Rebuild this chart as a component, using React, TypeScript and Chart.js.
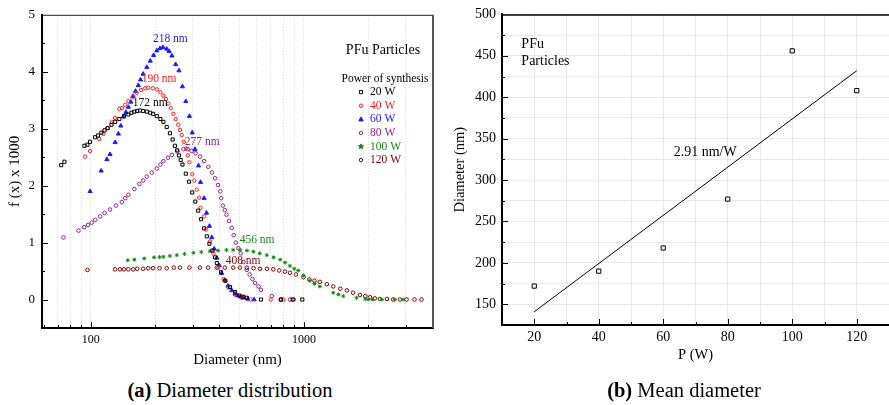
import React, { useEffect, useRef } from 'react';
import { Chart, registerables } from 'chart.js';
Chart.register(...registerables);

const FONT = "'Liberation Serif', 'Times New Roman', serif";

// ---------- Panel (a): diameter distribution ----------
const w20X = [72.6, 75.2, 93.3, 96.4, 99.2, 104.7, 108, 112, 116, 120, 125, 130, 136, 143, 150, 155, 160, 165, 170, 176, 183, 190, 196, 204, 212, 219, 227, 235, 242, 248, 254, 259, 264, 269, 279, 289, 299, 309, 319, 329, 340, 350, 360, 372, 383, 390, 408, 428, 450, 475, 498, 520, 539, 628, 780, 885, 982];
const w20Y = [2.36, 2.42, 2.70, 2.72, 2.77, 2.85, 2.88, 2.93, 2.97, 3.01, 3.07, 3.12, 3.17, 3.22, 3.25, 3.28, 3.30, 3.31, 3.32, 3.31, 3.30, 3.28, 3.26, 3.22, 3.17, 3.12, 3.03, 2.92, 2.81, 2.70, 2.62, 2.53, 2.45, 2.37, 2.21, 2.07, 1.88, 1.72, 1.56, 1.41, 1.25, 1.11, 0.98, 0.86, 0.74, 0.64, 0.48, 0.33, 0.22, 0.13, 0.07, 0.05, 0.03, 0, 0, 0, 0];

const w40X = [94, 99.2, 109.4, 114.6, 119.6, 125.4, 130, 136, 140, 145, 150, 157, 164, 172, 180, 186, 195, 204, 212, 219, 225, 231, 237, 244, 250, 257, 262, 267, 273, 280, 285, 290, 299, 306, 314, 322, 327, 340, 347, 362, 376, 396, 420, 442, 475, 510, 561, 698, 780, 800];
const w40Y = [2.51, 2.61, 2.82, 2.91, 3.01, 3.12, 3.19, 3.35, 3.36, 3.42, 3.48, 3.56, 3.63, 3.68, 3.71, 3.72, 3.71, 3.69, 3.64, 3.58, 3.52, 3.44, 3.36, 3.26, 3.17, 3.07, 2.98, 2.89, 2.77, 2.65, 2.53, 2.41, 2.20, 2.09, 1.93, 1.79, 1.61, 1.46, 1.23, 1.02, 0.81, 0.56, 0.36, 0.21, 0.09, 0.03, 0, 0, 0, 0];

const w60X = [99.2, 111.8, 118.9, 123, 130, 134.7, 138.2, 142.2, 146, 150, 154, 158, 162, 167, 171, 176, 183, 190, 197, 204, 211, 218, 227, 233, 240, 250, 259, 269, 279, 290, 299, 308, 320, 327, 340, 349, 360, 369, 379, 390, 400, 411, 425, 440, 458, 475, 487, 503, 519, 545, 583];
const w60Y = [1.90, 2.26, 2.46, 2.55, 2.76, 2.91, 3.05, 3.21, 3.29, 3.38, 3.47, 3.57, 3.66, 3.76, 3.86, 3.96, 4.08, 4.19, 4.29, 4.37, 4.41, 4.43, 4.40, 4.36, 4.28, 4.13, 4.02, 3.74, 3.48, 3.22, 2.93, 2.64, 2.35, 2.06, 1.78, 1.52, 1.29, 1.09, 0.89, 0.73, 0.60, 0.46, 0.34, 0.24, 0.16, 0.10, 0.07, 0.05, 0.03, 0.01, 0];

const w80X = [74.4, 87.5, 93, 97, 101, 105, 110.6, 116, 123, 131, 139.7, 145, 150, 160, 169, 176, 183, 193, 204, 212, 219, 230, 240, 255, 272, 285, 297, 310, 325, 340, 356, 370, 383, 395, 405, 409, 416, 425, 433, 445, 458, 468, 479, 492, 505, 520, 539, 556, 573, 590, 612, 628, 706, 777, 860, 895];
const w80Y = [1.09, 1.21, 1.27, 1.31, 1.35, 1.40, 1.46, 1.52, 1.58, 1.65, 1.71, 1.78, 1.84, 1.94, 2.03, 2.09, 2.16, 2.23, 2.30, 2.37, 2.43, 2.49, 2.54, 2.60, 2.64, 2.64, 2.61, 2.57, 2.51, 2.43, 2.33, 2.23, 2.13, 2.01, 1.90, 1.78, 1.65, 1.57, 1.49, 1.38, 1.26, 1.13, 1.00, 0.90, 0.81, 0.66, 0.52, 0.44, 0.36, 0.29, 0.23, 0.17, 0.06, 0, 0, 0];

const w100X = [149, 160, 178, 198, 210, 219, 235, 253, 275, 303, 330, 362, 395, 433, 465, 501, 540, 579, 620, 669, 720, 773, 815, 859, 900, 940, 995, 1067, 1120, 1187, 1372, 1450, 1528, 1765, 1938, 2000, 2100, 2320, 2670, 2920];
const w100Y = [0.69, 0.70, 0.72, 0.74, 0.745, 0.75, 0.765, 0.78, 0.80, 0.82, 0.835, 0.85, 0.86, 0.87, 0.87, 0.87, 0.86, 0.84, 0.81, 0.78, 0.74, 0.70, 0.65, 0.59, 0.54, 0.51, 0.42, 0.33, 0.28, 0.23, 0.12, 0.09, 0.06, 0.03, 0.01, 0, 0, 0, 0, 0];

const w120X = [96.4, 130, 137, 143, 150, 158, 165, 176, 186, 196, 210, 227, 245, 262, 290, 325, 355, 390, 425, 466, 500, 539, 580, 621, 670, 718, 765, 814, 860, 917, 995, 1060, 1120, 1187, 1280, 1372, 1480, 1590, 1700, 1830, 1940, 2040, 2150, 2270, 2450, 2620, 2820, 3030, 3300, 3560];
const w120Y = [0.52, 0.53, 0.53, 0.53, 0.53, 0.53, 0.54, 0.54, 0.55, 0.55, 0.55, 0.55, 0.56, 0.56, 0.56, 0.56, 0.56, 0.56, 0.56, 0.56, 0.56, 0.56, 0.55, 0.54, 0.54, 0.53, 0.51, 0.49, 0.47, 0.44, 0.39, 0.35, 0.33, 0.31, 0.27, 0.23, 0.19, 0.16, 0.12, 0.08, 0.06, 0.04, 0.02, 0.01, 0.01, 0, 0, 0, 0, 0];

const seriesLabels = ['20 W', '40 W', '60 W', '80 W', '100 W', '120 W'];
const seriesX = [w20X, w40X, w60X, w80X, w100X, w120X];
const seriesY = [w20Y, w40Y, w60Y, w80Y, w100Y, w120Y];
const seriesColors = ['#000000', '#ff1a1a', '#1a1aff', '#8e238e', '#138a13', '#800000'];
const seriesStyles = ['rect', 'circle', 'triangle', 'circle', 'star', 'circle'];
const seriesFilled = [false, false, true, false, true, false];
const seriesRadius = [2.2, 1.7, 2.4, 1.8, 2.0, 1.8];

const xTickValues = [60, 70, 80, 90, 100, 200, 300, 400, 500, 600, 700, 800, 900, 1000, 2000, 3000, 4000];
const xTickLabeled = [100, 1000];

const peakLabels = ['218 nm', '190 nm', '172 nm', '277 nm', '456 nm', '408 nm'];
const peakX = [236, 209, 190, 333, 603, 518];
const peakY = [4.58, 3.87, 3.45, 2.76, 1.04, 0.67];
const peakColors = ['#1a1aff', '#ff1a1a', '#000000', '#8e238e', '#138a13', '#800000'];

// ---------- Panel (b): mean diameter ----------
const powerW = [20, 40, 60, 80, 100, 120];
const meanDiameter = [172, 190, 218, 277, 456, 408];
const fitX = [20, 120];
const fitY = [141, 432];

const pts = (xs: number[], ys: number[]) => xs.map((x, i) => ({ x, y: ys[i] }));

function drawMarker(ctx: CanvasRenderingContext2D, style: string, x: number, y: number, color: string, filled: boolean) {
  ctx.save();
  ctx.strokeStyle = color;
  ctx.fillStyle = color;
  ctx.lineWidth = 1;
  ctx.beginPath();
  if (style === 'rect') {
    ctx.rect(x - 1.6, y - 1.6, 3.2, 3.2);
  } else if (style === 'circle') {
    ctx.arc(x, y, 1.7, 0, Math.PI * 2);
  } else if (style === 'triangle') {
    ctx.moveTo(x, y - 2.4);
    ctx.lineTo(x + 2.2, y + 1.6);
    ctx.lineTo(x - 2.2, y + 1.6);
    ctx.closePath();
  } else {
    for (let k = 0; k < 10; k++) {
      const r = k % 2 === 0 ? 2.6 : 1.2;
      const a = -Math.PI / 2 + (k * Math.PI) / 5;
      const px = x + r * Math.cos(a);
      const py = y + r * Math.sin(a);
      if (k === 0) ctx.moveTo(px, py);
      else ctx.lineTo(px, py);
    }
    ctx.closePath();
  }
  if (filled) ctx.fill();
  ctx.stroke();
  ctx.restore();
}

function drawInnerTicks(chart: any, majorTest: (axis: string, v: number) => boolean) {
  const ctx = chart.ctx as CanvasRenderingContext2D;
  const ca = chart.chartArea;
  const xs = chart.scales.x;
  const ys = chart.scales.y;
  ctx.save();
  ctx.strokeStyle = '#000';
  ctx.lineWidth = 1;
  ctx.beginPath();
  xs.ticks.forEach((t: any) => {
    const px = Math.round(xs.getPixelForValue(t.value)) + 0.5;
    if (px < ca.left + 1 || px > ca.right - 1) return;
    const len = majorTest('x', t.value) ? 6 : 3;
    ctx.moveTo(px, ca.bottom);
    ctx.lineTo(px, ca.bottom - len);
  });
  ys.ticks.forEach((t: any) => {
    const py = Math.round(ys.getPixelForValue(t.value)) + 0.5;
    if (py < ca.top + 1 || py > ca.bottom - 1) return;
    const len = majorTest('y', t.value) ? 6 : 3;
    ctx.moveTo(ca.left, py);
    ctx.lineTo(ca.left + len, py);
  });
  ctx.stroke();
  ctx.restore();
}

const isInt = (v: number) => Math.abs(v - Math.round(v)) < 1e-6;

const panelAPlugin = {
  id: 'panelA',
  afterDraw(chart: any) {
    const ctx = chart.ctx as CanvasRenderingContext2D;
    const ca = chart.chartArea;
    const xs = chart.scales.x;
    const ys = chart.scales.y;
    ctx.save();
    ctx.strokeStyle = '#222';
    ctx.lineWidth = 1;
    ctx.beginPath();
    ctx.moveTo(ca.left, ca.top + 0.5);
    ctx.lineTo(ca.right, ca.top + 0.5);
    ctx.stroke();
    ctx.strokeStyle = '#555';
    ctx.lineWidth = 2;
    ctx.beginPath();
    ctx.moveTo(ca.right, ca.top);
    ctx.lineTo(ca.right, ca.bottom);
    ctx.stroke();
    ctx.restore();

    drawInnerTicks(chart, (axis, v) => (axis === 'x' ? xTickLabeled.includes(v) : isInt(v)));

    ctx.save();
    ctx.textAlign = 'center';
    ctx.textBaseline = 'middle';
    ctx.font = `11.5px ${FONT}`;
    peakLabels.forEach((l, i) => {
      ctx.fillStyle = peakColors[i];
      ctx.fillText(l, xs.getPixelForValue(peakX[i]), ys.getPixelForValue(peakY[i]));
    });

    // legend
    const L = ca.left;
    const T = ca.top;
    ctx.fillStyle = '#000';
    ctx.font = `14px ${FONT}`;
    ctx.fillText('PFu Particles', L + 341, T + 36);
    ctx.font = `11.5px ${FONT}`;
    ctx.fillText('Power of synthesis', L + 343, T + 64);
    ctx.textAlign = 'left';
    seriesLabels.forEach((l, i) => {
      const y = T + 77.3 + i * 13.6;
      drawMarker(ctx, seriesStyles[i], L + 319, y, seriesColors[i], seriesFilled[i]);
      ctx.fillStyle = seriesColors[i];
      ctx.fillText(l, L + 328, y);
    });
    ctx.restore();
  },
};

const panelBPlugin = {
  id: 'panelB',
  afterDraw(chart: any) {
    const ctx = chart.ctx as CanvasRenderingContext2D;
    const ca = chart.chartArea;
    const xs = chart.scales.x;
    const ys = chart.scales.y;
    ctx.save();
    ctx.strokeStyle = '#000';
    ctx.lineWidth = 1.5;
    ctx.beginPath();
    ctx.moveTo(ca.left, ca.top + 0.5);
    ctx.lineTo(ca.right, ca.top + 0.5);
    ctx.stroke();
    ctx.restore();

    drawInnerTicks(chart, (axis, v) => (axis === 'x' ? v % 20 === 0 : v % 50 === 0));

    ctx.save();
    ctx.fillStyle = '#000';
    ctx.font = `14px ${FONT}`;
    ctx.textBaseline = 'middle';
    ctx.textAlign = 'center';
    ctx.fillText('2.91 nm/W', xs.getPixelForValue(73), ys.getPixelForValue(334));
    ctx.textAlign = 'left';
    ctx.fillText('PFu', xs.getPixelForValue(16), ys.getPixelForValue(463.5));
    ctx.fillText('Particles', xs.getPixelForValue(16), ys.getPixelForValue(443));
    ctx.restore();
  },
};

function makeConfigA(): any {
  return {
    type: 'scatter',
    data: {
      datasets: seriesLabels.map((label, i) => ({
        label,
        data: pts(seriesX[i], seriesY[i]),
        pointStyle: seriesStyles[i],
        pointRadius: seriesRadius[i],
        pointBorderWidth: 1,
        borderColor: seriesColors[i],
        backgroundColor: seriesFilled[i] ? seriesColors[i] : 'rgba(255,255,255,0)',
        showLine: false,
      })),
    },
    options: {
      responsive: false,
      animation: false,
      events: [],
      layout: { padding: { top: 12, right: 12, left: 0, bottom: 0 } },
      plugins: { legend: { display: false }, tooltip: { enabled: false } },
      scales: {
        x: {
          type: 'logarithmic',
          min: 59,
          max: 4030,
          afterBuildTicks: (s: any) => {
            s.ticks = xTickValues.map((v) => ({ value: v }));
          },
          afterFit: (s: any) => {
            s.height = 47;
          },
          ticks: {
            autoSkip: false,
            maxRotation: 0,
            minRotation: 0,
            padding: 5,
            color: '#000',
            font: { family: FONT, size: 12 },
            callback: (v: number) => (xTickLabeled.includes(v) ? String(v) : ''),
          },
          grid: { color: '#d4d4d4', drawTicks: false, lineWidth: 1 },
          border: { display: true, color: '#000', width: 2, dash: [1, 2] },
          title: {
            display: true,
            text: 'Diameter (nm)',
            color: '#000',
            font: { family: FONT, size: 15 },
            padding: { top: 0, bottom: 6 },
          },
        },
        y: {
          type: 'linear',
          min: -0.5,
          max: 5,
          afterFit: (s: any) => {
            s.width = 42;
          },
          ticks: {
            stepSize: 0.5,
            padding: 7,
            color: '#000',
            font: { family: FONT, size: 13 },
            callback: (v: number) => (v >= 0 && isInt(v) ? String(Math.round(v)) : ''),
          },
          grid: { display: false, drawTicks: false },
          border: { display: true, color: '#000', width: 2 },
          title: {
            display: true,
            text: 'f (x) x 1000',
            color: '#000',
            font: { family: FONT, size: 15 },
            padding: { top: 6, bottom: 0 },
          },
        },
      },
    },
    plugins: [panelAPlugin],
  };
}

function makeConfigB(): any {
  return {
    type: 'scatter',
    data: {
      datasets: [
        {
          label: 'Mean diameter',
          data: pts(powerW, meanDiameter),
          pointStyle: 'rect',
          pointRadius: 3,
          pointBorderWidth: 1,
          borderColor: '#000',
          backgroundColor: 'rgba(255,255,255,0)',
          showLine: false,
        },
        {
          label: 'Fit',
          data: pts(fitX, fitY),
          showLine: true,
          pointRadius: 0,
          borderColor: '#000',
          borderWidth: 1,
          fill: false,
        },
      ],
    },
    options: {
      responsive: false,
      animation: false,
      events: [],
      layout: { padding: { top: 12, right: 0, left: 0, bottom: 0 } },
      plugins: { legend: { display: false }, tooltip: { enabled: false } },
      scales: {
        x: {
          type: 'linear',
          min: 10,
          max: 130,
          afterFit: (s: any) => {
            s.height = 50;
          },
          ticks: {
            stepSize: 10,
            autoSkip: false,
            maxRotation: 0,
            padding: 4,
            color: '#000',
            font: { family: FONT, size: 14 },
            callback: (v: number) => (v % 20 === 0 && v >= 20 && v <= 120 ? String(v) : ''),
          },
          grid: { color: '#e8e8e8', drawTicks: false, lineWidth: 1 },
          border: { display: true, color: '#000', width: 2 },
          title: {
            display: true,
            text: 'P (W)',
            color: '#000',
            font: { family: FONT, size: 14.5 },
            padding: { top: 0, bottom: 11.5 },
          },
        },
        y: {
          type: 'linear',
          min: 125,
          max: 500,
          afterFit: (s: any) => {
            s.width = 62;
          },
          ticks: {
            stepSize: 25,
            autoSkip: false,
            padding: 6,
            color: '#000',
            font: { family: FONT, size: 14 },
            callback: (v: number) => (v % 50 === 0 ? String(v) : ''),
          },
          grid: { color: '#e8e8e8', drawTicks: false, lineWidth: 1 },
          border: { display: true, color: '#000', width: 2 },
          title: {
            display: true,
            text: 'Diameter (nm)',
            color: '#000',
            font: { family: FONT, size: 14.5 },
            padding: { top: 11.5, bottom: 0 },
          },
        },
      },
    },
    plugins: [panelBPlugin],
  };
}

const captionStyle: React.CSSProperties = {
  position: 'absolute',
  top: 379,
  height: 22,
  lineHeight: '22px',
  fontFamily: FONT,
  fontSize: 20.5,
  color: '#000',
  textAlign: 'center',
  whiteSpace: 'nowrap',
};

export default function App() {
  const refA = useRef<HTMLCanvasElement>(null);
  const refB = useRef<HTMLCanvasElement>(null);
  useEffect(() => {
    const a = new Chart(refA.current as HTMLCanvasElement, makeConfigA());
    const b = new Chart(refB.current as HTMLCanvasElement, makeConfigB());
    return () => {
      a.destroy();
      b.destroy();
    };
  }, []);
  return (
    <div style={{ position: 'absolute', left: 0, top: 0, width: 889, height: 405, background: '#fff', overflow: 'hidden' }}>
      <canvas ref={refA} width={445} height={375} style={{ position: 'absolute', left: 0, top: 0 }} />
      <canvas ref={refB} width={454} height={375} style={{ position: 'absolute', left: 440, top: 0 }} />
      <div style={{ ...captionStyle, left: 0, width: 460 }}>
        <b>(a)</b> Diameter distribution
      </div>
      <div style={{ ...captionStyle, left: 520, width: 328 }}>
        <b>(b)</b> Mean diameter
      </div>
    </div>
  );
}
